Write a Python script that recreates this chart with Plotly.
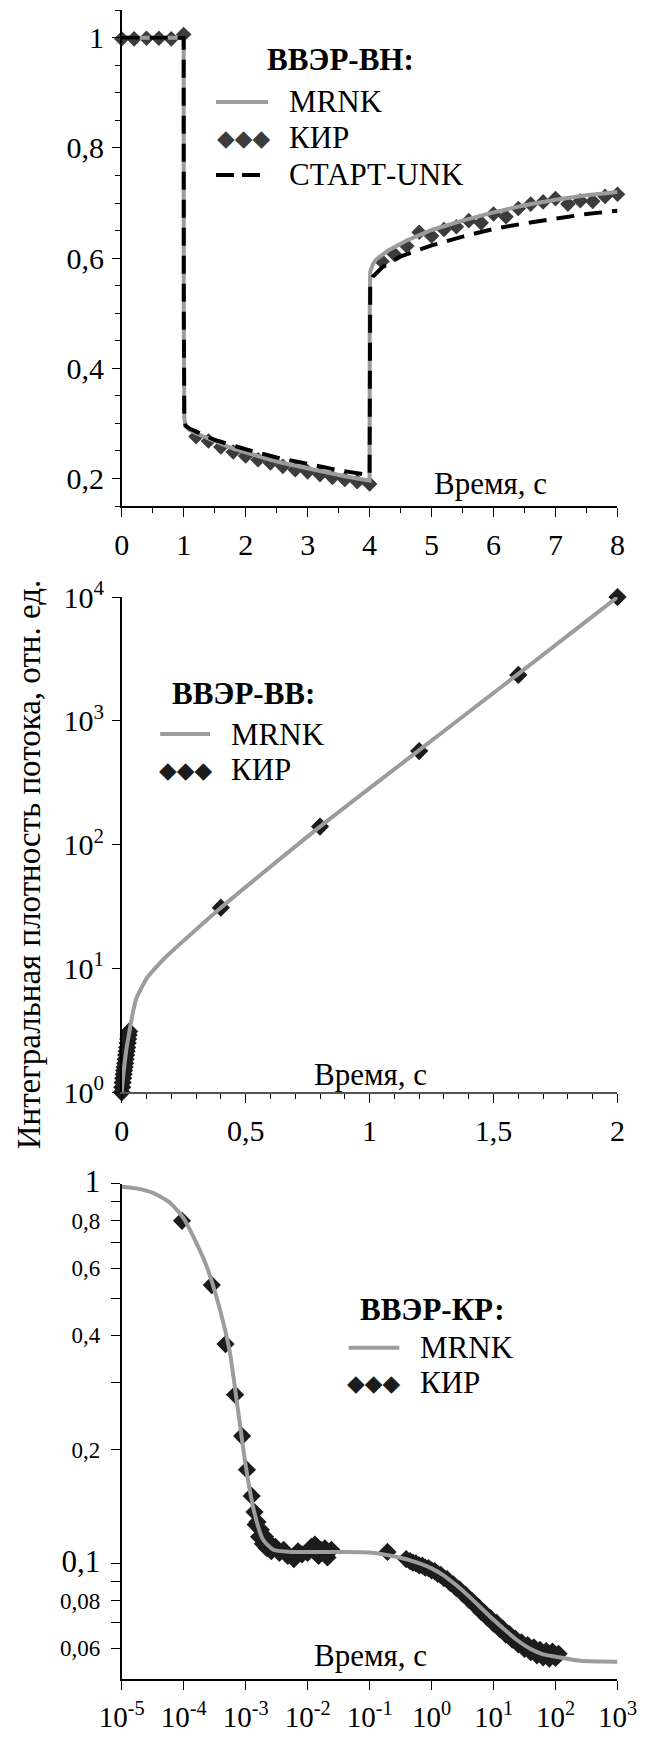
import plotly.graph_objects as go

# ---------------- Panel 1: ВВЭР-ВН ----------------
vn_mrnk_t = [0, 0.5, 1.0, 1.002, 1.01, 1.03, 1.1, 1.2, 1.4, 1.6, 1.8, 2.0, 2.2, 2.4, 2.6, 2.8, 3.0, 3.2, 3.4, 3.6, 3.8, 4.0,
             4.002, 4.01, 4.05, 4.1, 4.3, 4.6, 5.0, 5.5, 6.0, 6.5, 7.0, 7.5, 8.0]
vn_mrnk_v = [1.0, 1.0, 1.0, 0.5, 0.31, 0.295, 0.288, 0.282, 0.272, 0.263, 0.254, 0.247, 0.240, 0.234, 0.228, 0.223, 0.218,
             0.213, 0.208, 0.204, 0.200, 0.196,
             0.5, 0.575, 0.588, 0.597, 0.614, 0.632, 0.651, 0.668, 0.683, 0.696, 0.706, 0.714, 0.720]
vn_kir_t = [0, 0.2, 0.4, 0.6, 0.8, 1.0, 1.2, 1.4, 1.6, 1.8, 2.0, 2.2, 2.4, 2.6, 2.8, 3.0, 3.2, 3.4, 3.6, 3.8, 4.0,
            4.2, 4.4, 4.6, 4.8, 5.0, 5.2, 5.4, 5.6, 5.8, 6.0, 6.2, 6.4, 6.6, 6.8, 7.0, 7.2, 7.4, 7.6, 7.8, 8.0]
vn_kir_v = [0.998, 0.998, 0.999, 0.999, 0.998, 1.006, 0.276, 0.268, 0.257, 0.248, 0.241, 0.234, 0.228, 0.222, 0.216,
            0.212, 0.207, 0.202, 0.198, 0.194, 0.190,
            0.594, 0.607, 0.622, 0.647, 0.640, 0.652, 0.657, 0.668, 0.664, 0.680, 0.675, 0.690, 0.698, 0.702, 0.708,
            0.698, 0.704, 0.703, 0.712, 0.716]
vn_start_t = [0, 1.0, 1.002, 1.01, 1.03, 1.1, 1.5, 2.0, 2.5, 3.0, 3.5, 4.0, 4.002, 4.01, 4.05, 4.2, 4.5, 5.0, 5.5, 6.0,
              6.5, 7.0, 7.5, 8.0]
vn_start_v = [1.0, 1.0, 0.5, 0.31, 0.296, 0.29, 0.27, 0.253, 0.238, 0.226, 0.215, 0.206, 0.5, 0.555, 0.566, 0.583,
              0.603, 0.623, 0.639, 0.653, 0.663, 0.672, 0.680, 0.686]

# ---------------- Panel 2: ВВЭР-ВВ ----------------
vv_mrnk_t = [0, 0.005, 0.01, 0.02, 0.03, 0.045, 0.06, 0.08, 0.1, 0.13, 0.18, 0.26, 0.4, 0.8, 1.2, 1.6, 2.0]
vv_mrnk_v = [1.0, 1.3, 1.6, 2.3, 3.0, 4.4, 5.8, 7.0, 8.3, 9.8, 12.5, 17.5, 31, 140, 580, 2400, 10000]
vv_kir_t = [0, 0.002, 0.004, 0.006, 0.008, 0.01, 0.012, 0.014, 0.016, 0.018, 0.02, 0.022, 0.024, 0.026, 0.028, 0.03,
            0.4, 0.8, 1.2, 1.6, 2.0]
vv_kir_v = [1.0, 1.1, 1.2, 1.3, 1.4, 1.5, 1.6, 1.72, 1.85, 2.0, 2.15, 2.3, 2.5, 2.7, 2.9, 3.1,
            31, 140, 570, 2350, 10000]

# ---------------- Panel 3: ВВЭР-КР ----------------
kr_mrnk_t = [1e-5, 1.7e-5, 3.2e-5, 5.9e-5, 1e-4, 1.6e-4, 2.37e-4, 3.76e-4, 5.52e-4, 7.52e-4, 1.02e-3, 1.39e-3, 1.9e-3,
             2.8e-3, 5.2e-3, 3.2e-2, 0.1, 0.21, 0.4, 1.0, 1.585, 2.512, 3.162, 3.98, 6.31, 10, 15.85, 25.1, 39.8,
             63.1, 100, 251, 1000]
kr_mrnk_v = [0.984, 0.974, 0.948, 0.895, 0.812, 0.70, 0.605, 0.474, 0.363, 0.254, 0.178, 0.136, 0.116, 0.109, 0.1076,
             0.1075, 0.1072, 0.1053, 0.1028, 0.0974, 0.0932, 0.0879, 0.0852, 0.0823, 0.0766, 0.0713, 0.0667,
             0.0627, 0.0597, 0.0578, 0.0570, 0.0556, 0.0553]
kr_kir_t = [9.4e-5, 2.84e-4, 4.73e-4, 6.75e-4, 8.77e-4, 1.05e-3, 1.25e-3, 1.39e-3, 1.45e-3, 1.55e-3, 1.65e-3, 1.76e-3,
            1.9e-3, 2.05e-3, 2.2e-3, 2.39e-3, 2.6e-3, 3.02e-3, 3.5e-3, 4.1e-3, 4.8e-3, 6.0e-3, 7.0e-3, 8.1e-3,
            1.0e-2, 1.15e-2, 1.31e-2, 1.5e-2, 1.64e-2, 1.9e-2, 2.09e-2, 2.42e-2, 0.194, 0.389,
            0.45, 0.5, 0.56, 0.63, 0.71, 0.79, 0.89, 1.0, 1.12, 1.26, 1.41, 1.58, 1.78, 2.0, 2.24, 2.51, 2.82,
            3.16, 3.55, 3.98, 4.47, 5.01, 5.62, 6.31, 7.08, 7.94, 8.91, 10, 11.2, 12.6, 14.1, 15.8, 17.8, 20,
            22.4, 25.1, 28.2, 31.6, 35.5, 39.8, 44.7, 50.1, 56.2, 63.1, 70.8, 79.4, 89.1, 100, 112]
kr_kir_v = [0.80, 0.542, 0.379, 0.279, 0.217, 0.177, 0.151, 0.137, 0.127, 0.129, 0.118, 0.123,
            0.113, 0.118, 0.110, 0.114, 0.108, 0.111, 0.107, 0.109, 0.105, 0.103, 0.108, 0.106,
            0.107, 0.111, 0.1125, 0.105, 0.109, 0.110, 0.104, 0.109, 0.1076, 0.103,
            0.1018, 0.1008, 0.1004, 0.0992, 0.0990, 0.0978, 0.0975, 0.0962, 0.0958, 0.0942, 0.0936, 0.0918,
            0.0912, 0.0892, 0.0884, 0.0864, 0.0858, 0.0836, 0.0829, 0.0806, 0.0800, 0.0778, 0.0772, 0.0748,
            0.0745, 0.0722, 0.0720, 0.0697, 0.0700, 0.0674, 0.0676, 0.0652, 0.0655, 0.0632, 0.0636, 0.0614,
            0.0622, 0.0598, 0.0612, 0.0586, 0.0603, 0.0575, 0.0594, 0.0568, 0.0590, 0.0563, 0.0588, 0.0566, 0.0580]

# tick labels
vv_y_tickvals = [1, 10, 100, 1000, 10000]
vv_y_ticktext = ["10<sup>0</sup>", "10<sup>1</sup>", "10<sup>2</sup>", "10<sup>3</sup>", "10<sup>4</sup>"]
kr_x_tickvals = [1e-5, 1e-4, 1e-3, 1e-2, 1e-1, 1, 10, 100, 1000]
kr_x_ticktext = ["10<sup>-5</sup>", "10<sup>-4</sup>", "10<sup>-3</sup>", "10<sup>-2</sup>", "10<sup>-1</sup>",
                 "10<sup>0</sup>", "10<sup>1</sup>", "10<sup>2</sup>", "10<sup>3</sup>"]
kr_y_tickvals = [0.06, 0.07, 0.08, 0.09, 0.1, 0.2, 0.3, 0.4, 0.5, 0.6, 0.7, 0.8, 0.9, 1.0]
kr_y_ticktext = ["0,06", "", "0,08", "", "<span style='font-size:31px'>0,1</span>", "0,2", "", "0,4", "", "0,6", "",
                 "0,8", "", "<span style='font-size:31px'>1</span>"]

SERIF = "Liberation Serif, Times New Roman, serif"
GREY = "#9c9c9c"
fig = go.Figure()

# panel 1
fig.add_trace(go.Scatter(x=vn_kir_t, y=vn_kir_v, mode="markers", cliponaxis=False,
                         marker=dict(symbol="diamond", size=12, color="#3c3c3c", line=dict(width=0)),
                         xaxis="x", yaxis="y", showlegend=False))
fig.add_trace(go.Scatter(x=vn_mrnk_t, y=vn_mrnk_v, mode="lines", line=dict(color=GREY, width=4),
                         xaxis="x", yaxis="y", showlegend=False))
fig.add_trace(go.Scatter(x=vn_start_t, y=vn_start_v, mode="lines",
                         line=dict(color="black", width=4, dash="18px,10px"),
                         xaxis="x", yaxis="y", showlegend=False))
# panel 2
fig.add_trace(go.Scatter(x=vv_kir_t, y=vv_kir_v, mode="markers", cliponaxis=False,
                         marker=dict(symbol="diamond", size=14, color="#1c1c1c", line=dict(width=0)),
                         xaxis="x2", yaxis="y2", showlegend=False))
fig.add_trace(go.Scatter(x=vv_mrnk_t, y=vv_mrnk_v, mode="lines",
                         line=dict(color=GREY, width=4, shape="spline", smoothing=0.6),
                         xaxis="x2", yaxis="y2", showlegend=False))
# panel 3
fig.add_trace(go.Scatter(x=kr_kir_t, y=kr_kir_v, mode="markers", cliponaxis=False,
                         marker=dict(symbol="diamond", size=14, color="#1c1c1c", line=dict(width=0)),
                         xaxis="x3", yaxis="y3", showlegend=False))
fig.add_trace(go.Scatter(x=kr_mrnk_t, y=kr_mrnk_v, mode="lines",
                         line=dict(color=GREY, width=4, shape="spline", smoothing=0.6),
                         xaxis="x3", yaxis="y3", showlegend=False))

XD = [0.18694, 0.94854]
YD1 = [0.70869, 0.99413]
YD2 = [0.37116, 0.65625]
YD3 = [0.03322, 0.31837]
tf = dict(family=SERIF, size=30, color="black")
base = dict(showgrid=False, zeroline=False, showline=True, linewidth=1.5, tickfont=tf,
            tickcolor="black", tickwidth=1.2, automargin=False)

# main axes (left/bottom, black, outside ticks)
fig.update_layout(
    xaxis=dict(base, domain=XD, anchor="y", range=[0, 8], dtick=1, ticks="outside", ticklen=9,
               linecolor="black", ticklabelstandoff=2,
               minor=dict(ticks="outside", dtick=0.5, ticklen=5, tickcolor="black")),
    yaxis=dict(base, domain=YD1, anchor="x", range=[0.15, 1.05], dtick=0.2, tick0=0, ticks="outside", ticklen=8,
               linecolor="black", ticklabelstandoff=2,
               minor=dict(ticks="outside", dtick=0.05, tick0=0, ticklen=5, tickcolor="black")),
    xaxis2=dict(base, domain=XD, anchor="y2", range=[0, 2], dtick=0.5, ticks="outside", ticklen=9,
                linecolor="#555555", ticklabelstandoff=2,
                minor=dict(ticks="outside", dtick=0.1, ticklen=5, tickcolor="black")),
    yaxis2=dict(base, domain=YD2, anchor="x2", type="log", range=[0, 4], tickvals=vv_y_tickvals,
                ticktext=vv_y_ticktext, ticks="outside", ticklen=8, linecolor="black", ticklabelstandoff=2),
    xaxis3=dict(base, domain=XD, anchor="y3", type="log", range=[-5, 3], tickvals=kr_x_tickvals,
                ticktext=kr_x_ticktext, ticks="outside", ticklen=9, linecolor="black", ticklabelstandoff=2,
                tickfont=dict(family=SERIF, size=29, color="black")),
    yaxis3=dict(base, domain=YD3, anchor="x3", type="log", range=[-1.3035, 0], tickvals=kr_y_tickvals,
                ticktext=kr_y_ticktext, ticks="outside", ticklen=9, linecolor="black", ticklabelstandoff=6,
                tickfont=dict(family=SERIF, size=23, color="black")),
)

# overlay axes (top/right, grey, inside ticks)
ov = dict(showgrid=False, zeroline=False, showline=True, linewidth=1.5, linecolor="#8a8a8a",
          showticklabels=False, ticks="inside", tickcolor="#555555", tickwidth=1.2, automargin=False)
fig.update_layout(
    xaxis4=dict(ov, domain=XD, anchor="y", overlaying="x", side="top", range=[0, 8], dtick=1, ticklen=6,
                minor=dict(ticks="inside", dtick=0.5, ticklen=4, tickcolor="#555555")),
    yaxis4=dict(ov, domain=YD1, anchor="x", overlaying="y", side="right", range=[0.15, 1.05], dtick=0.2, tick0=0,
                ticklen=6, minor=dict(ticks="inside", dtick=0.05, tick0=0, ticklen=6, tickcolor="#555555")),
    xaxis5=dict(ov, domain=XD, anchor="y2", overlaying="x2", side="top", range=[0, 2], dtick=0.5, ticklen=6,
                minor=dict(ticks="inside", dtick=0.1, ticklen=4, tickcolor="#555555")),
    yaxis5=dict(ov, domain=YD2, anchor="x2", overlaying="y2", side="right", type="log", range=[0, 4],
                tickvals=vv_y_tickvals, ticklen=6),
    xaxis6=dict(ov, domain=XD, anchor="y3", overlaying="x3", side="top", type="log", range=[-5, 3],
                tickvals=kr_x_tickvals, ticklen=6),
    yaxis6=dict(ov, domain=YD3, anchor="x3", overlaying="y3", side="right", type="log", range=[-1.3035, 0],
                tickvals=kr_y_tickvals, ticklen=6),
)

ann_font = dict(family=SERIF, size=31, color="black")


def ann(x, y, text, xanchor="center", font=ann_font, **kw):
    return dict(x=x, y=y, text=text, xanchor=xanchor, yanchor="middle", showarrow=False, font=font,
                xref="paper", yref="paper", **kw)


annotations = [
    # y-axis title
    ann(0.0445, 0.5024, "Интегральная плотность потока, отн. ед.", textangle=-90,
        font=dict(family=SERIF, size=33, color="black")),
    # "Время, с" labels
    ann(0.754, 0.7214, "Время, с"),
    ann(0.5687, 0.3813, "Время, с"),
    ann(0.5687, 0.0472, "Время, с"),
    # legend panel 1
    ann(0.5238, 0.9660, "<b>ВВЭР-ВН:</b>"),
    ann(0.4409, 0.9413, "MRNK", xanchor="left"),
    ann(0.4409, 0.9208, "КИР", xanchor="left"),
    ann(0.4409, 0.8993, "СТАРТ-UNK", xanchor="left"),
    ann(0.3733, 0.9208, "◆◆◆", font=dict(family="DejaVu Sans", size=23, color="#3c3c3c")),
    # legend panel 2
    ann(0.3738, 0.6005, "<b>ВВЭР-ВВ:</b>"),
    ann(0.3514, 0.5774, "MRNK", xanchor="left"),
    ann(0.3514, 0.5569, "КИР", xanchor="left"),
    ann(0.2842, 0.5569, "◆◆◆", font=dict(family="DejaVu Sans", size=23, color="#1c1c1c")),
    # legend panel 3
    ann(0.6645, 0.2464, "<b>ВВЭР-КР:</b>"),
    ann(0.6421, 0.2241, "MRNK", xanchor="left"),
    ann(0.6421, 0.2040, "КИР", xanchor="left"),
    ann(0.5745, 0.2040, "◆◆◆", font=dict(family="DejaVu Sans", size=23, color="#1c1c1c")),
]

shapes = [
    dict(type="line", xref="paper", yref="paper", x0=0.3318, x1=0.4117, y0=0.9413, y1=0.9413,
         line=dict(color=GREY, width=4)),
    dict(type="line", xref="paper", yref="paper", x0=0.3318, x1=0.4117, y0=0.8993, y1=0.8993,
         line=dict(color="black", width=4, dash="18px,8px")),
    dict(type="line", xref="paper", yref="paper", x0=0.2460, x1=0.3226, y0=0.5774, y1=0.5774,
         line=dict(color=GREY, width=4)),
    dict(type="line", xref="paper", yref="paper", x0=0.5355, x1=0.6134, y0=0.2241, y1=0.2241,
         line=dict(color=GREY, width=4)),
]

fig.update_layout(
    width=651, height=1737, autosize=False,
    margin=dict(l=0, r=0, t=0, b=0, pad=0),
    paper_bgcolor="white", plot_bgcolor="white",
    separators=", ",
    font=dict(family=SERIF, color="black"),
    annotations=annotations, shapes=shapes, showlegend=False,
)

fig.write_html("out.html", config={"displayModeBar": False},
               post_script="document.body.style.margin='0';")
